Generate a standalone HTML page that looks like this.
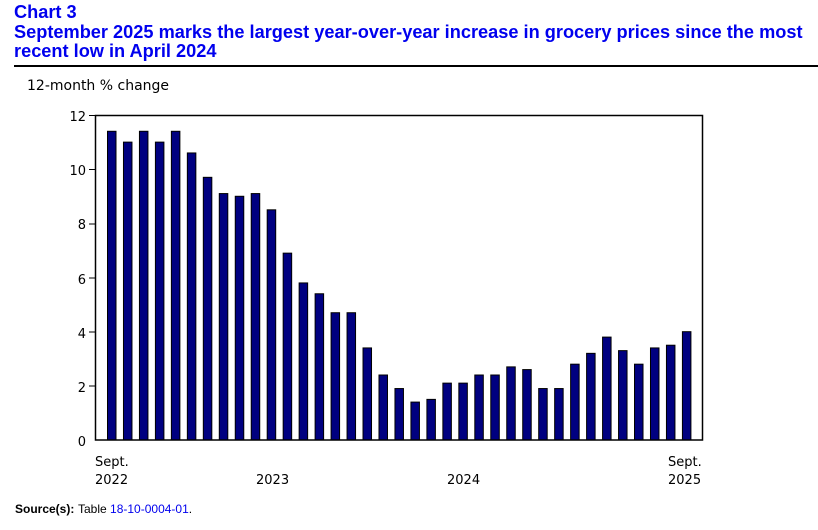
<!DOCTYPE html>
<html><head><style>
body{margin:0;background:#fff;width:818px;height:525px;overflow:hidden}
</style></head><body>
<svg width="818" height="525" xmlns="http://www.w3.org/2000/svg">
<g font-family="Liberation Sans, Arial, sans-serif" font-weight="bold" font-size="18.2" fill="#0000ee">
<text x="14" y="18">Chart 3</text>
<text x="14" y="38">September 2025 marks the largest year-over-year increase in grocery prices since the most</text>
<text x="14" y="57">recent low in April 2024</text>
</g>
<line x1="14" y1="66" x2="818" y2="66" stroke="#000" stroke-width="2"/>
<g font-family="DejaVu Sans, Verdana, sans-serif" font-size="13" fill="#000">
<text x="27" y="90" font-size="14">12-month % change</text>
<text x="86" y="121" text-anchor="end">12</text>
<text x="86" y="175" text-anchor="end">10</text>
<text x="86" y="229" text-anchor="end">8</text>
<text x="86" y="284" text-anchor="end">6</text>
<text x="86" y="338" text-anchor="end">4</text>
<text x="86" y="392" text-anchor="end">2</text>
<text x="86" y="446" text-anchor="end">0</text>
<text x="95" y="466">Sept.</text>
<text x="95" y="484">2022</text>
<text x="256" y="484">2023</text>
<text x="447" y="484">2024</text>
<text x="668" y="466">Sept.</text>
<text x="668" y="484">2025</text>
</g>
<g stroke="#000" stroke-width="1">
<line x1="89" y1="115.5" x2="95" y2="115.5"/>
<line x1="89" y1="169.5" x2="95" y2="169.5"/>
<line x1="89" y1="224" x2="95" y2="224"/>
<line x1="89" y1="278" x2="95" y2="278"/>
<line x1="89" y1="332" x2="95" y2="332"/>
<line x1="89" y1="386" x2="95" y2="386"/>
</g>
<g id="bars" fill="#000080" stroke="#000" stroke-width="1"></g>
<rect x="95.5" y="115.5" width="607" height="324.5" fill="none" stroke="#000" stroke-width="1.5"/>
<g font-family="Liberation Sans, Arial, sans-serif" font-size="12">
<text x="15" y="513" font-weight="bold" fill="#000">Source(s):</text>
<text x="78" y="513" fill="#000">Table <tspan fill="#0000ee">18-10-0004-01</tspan>.</text>
</g>
</svg>
<script>
var v=[11.4,11.0,11.4,11.0,11.4,10.6,9.7,9.1,9.0,9.1,8.5,6.9,5.8,5.4,4.7,4.7,3.4,2.4,1.9,1.4,1.5,2.1,2.1,2.4,2.4,2.7,2.6,1.9,1.9,2.8,3.2,3.8,3.3,2.8,3.4,3.5,4.0];
var g=document.getElementById('bars'),s='';
for(var i=0;i<v.length;i++){var x=107.5+i*15.97,h=v[i]*27.08;
s+='<rect x="'+x+'" y="'+(440-h)+'" width="8.5" height="'+h+'"/>';}
g.innerHTML=s;
</script>
</body></html>
